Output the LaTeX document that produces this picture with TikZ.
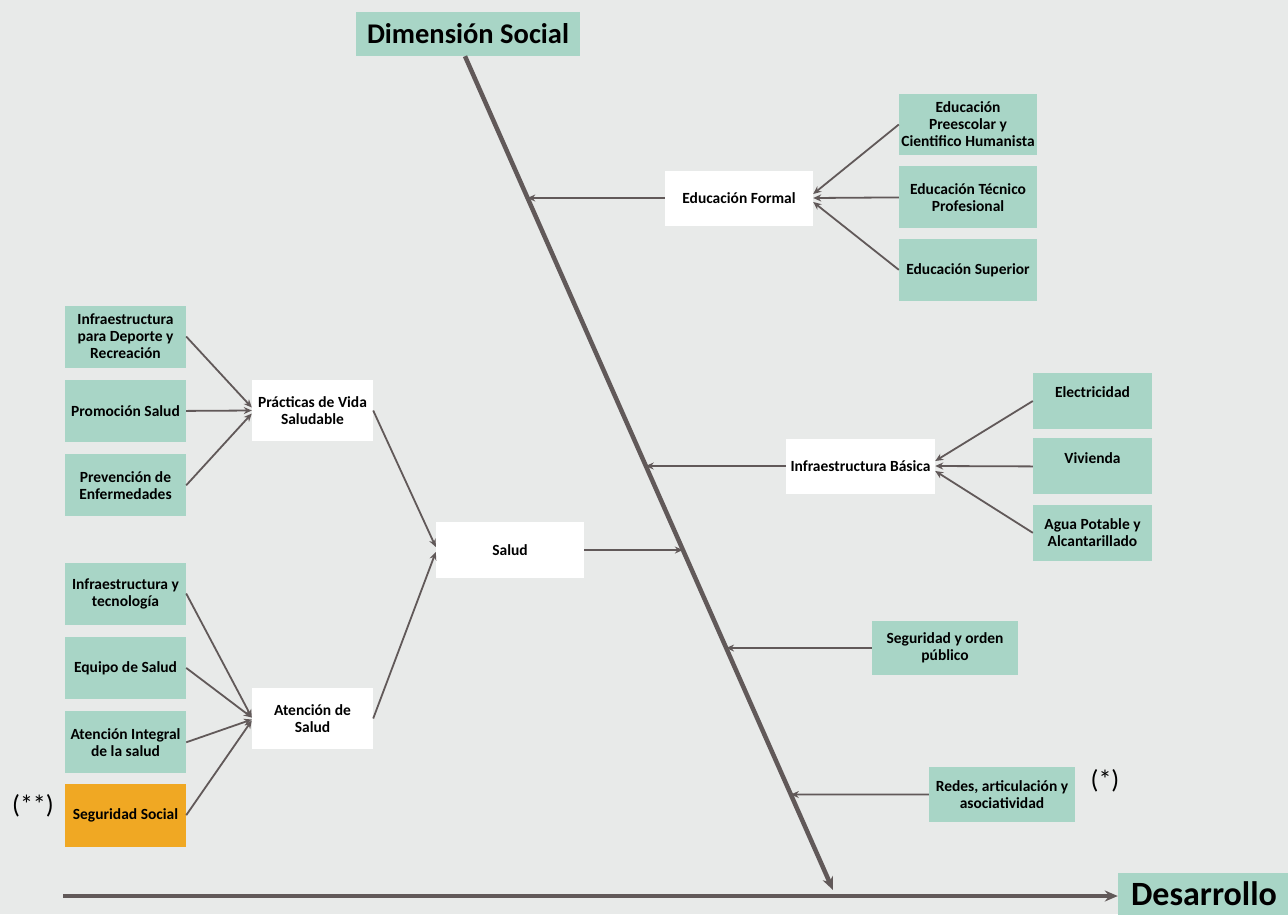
\documentclass[tikz,border=0pt]{standalone}
\usepackage{fontspec}
\setmainfont{Carlito}
\usetikzlibrary{positioning,arrows.meta}

\definecolor{fondo}{HTML}{E8EAE9}
\definecolor{verde}{HTML}{A8D5C6}
\definecolor{naranja}{HTML}{F0A823}
\definecolor{linea}{HTML}{615959}

\begin{document}
\begin{tikzpicture}[x=1pt, y=-1pt,
			caja/.style={rectangle, inner sep=2pt, align=center, font=\fontsize{15.5}{17}\selectfont\bfseries},
			blanca/.style={caja, fill=white, minimum width=148pt, minimum height=55pt},
			blanca2/.style={caja, fill=white, minimum width=121pt, minimum height=61pt},
			hoja/.style={caja, fill=verde, minimum width=121pt, minimum height=62pt},
			hojader/.style={caja, fill=verde, minimum width=138pt, minimum height=62pt},
			titulo/.style={rectangle, fill=verde, inner sep=2pt, font=\fontsize{28.5}{32}\selectfont\bfseries},
			flecha/.style={-{Stealth[length=8pt, width=7pt]}, line width=1.8pt, draw=linea},
			espina/.style={-{Stealth[length=13pt, width=11pt]}, line width=4.5pt, draw=linea}
			]
			
			% fondo y margenes
			\fill[fondo] (0,0) rectangle (1288,914);
			\useasboundingbox (0,0) rectangle (1288,914);
			
			% titulos
			\node[titulo, minimum width=224pt, minimum height=44pt] (dimension) at (468,34) {Dimensión Social};
			\node[titulo, minimum width=172pt, minimum height=42pt, font=\fontsize{34}{38}\selectfont\bfseries] (desarrollo) at (1204,894) {Desarrollo};
			
			% espinas principales
			\coordinate (dtop) at (465,57);
			\coordinate (dbot) at (833,890);
			\coordinate (hini) at (63,896);
			\draw[espina] ([xshift=-3pt]dimension.south) -- (dbot);
			\draw[espina] (hini) -- (desarrollo.west |- hini);
			
			% Educacion
			\node[blanca] (formal) at (739,198) {Educación Formal};
			\node[hojader, minimum height=61pt] (preesc) at (968,124.5) {Educación\\Preescolar y\\Cientifico Humanista};
			\node[hojader, below=11pt of preesc] (tecnico) {Educación Técnico\\Profesional};
			\node[hojader, below=10pt of tecnico] (superior) {Educación Superior};
			\draw[flecha] (preesc.west) -- ([yshift=4pt]formal.east);
			\draw[flecha] (tecnico.west) -- (formal.east);
			\draw[flecha] (superior.west) -- ([yshift=-4pt]formal.east);
			\draw[flecha] (formal.west) -- (intersection of dtop--dbot and formal.west--formal.east);
			
			% Infraestructura basica
			\node[blanca, minimum width=149pt] (basica) at (860.5,466) {Infraestructura Básica};
			\node[hoja, minimum width=119pt, minimum height=56pt] (electri) at (1092.5,401) {Electricidad\\\mbox{}};
			\node[hoja, minimum width=119pt, minimum height=56pt, below=9pt of electri] (vivienda) {Vivienda\\\mbox{}};
			\node[hoja, minimum width=119pt, minimum height=56pt, below=10pt of vivienda] (agua) {Agua Potable y\\Alcantarillado};
			\draw[flecha] (electri.west) -- ([yshift=5pt]basica.east);
			\draw[flecha] (vivienda.west) -- (basica.east);
			\draw[flecha] (agua.west) -- ([yshift=-5pt]basica.east);
			\draw[flecha] (basica.west) -- (intersection of dtop--dbot and basica.west--basica.east);
			
			% Salud
			\node[blanca, minimum height=56pt] (salud) at (510,550) {Salud};
			\draw[flecha] (salud.east) -- (intersection of dtop--dbot and salud.west--salud.east);
			
			% Practicas de vida saludable
			\node[blanca2] (practicas) at (312.5,410.5) {Prácticas de Vida\\Saludable};
			\node[hoja] (deporte) at (125.5,336.5) {Infraestructura\\para Deporte y\\Recreación};
			\node[hoja, below=12pt of deporte] (promocion) {Promoción Salud};
			\node[hoja, below=12pt of promocion] (prevencion) {Prevención de\\Enfermedades};
			\draw[flecha] (deporte.east) -- ([yshift=3pt]practicas.west);
			\draw[flecha] (promocion.east) -- (practicas.west);
			\draw[flecha] (prevencion.east) -- ([yshift=-3pt]practicas.west);
			\draw[flecha] (practicas.east) -- ([yshift=3pt]salud.west);
			
			% Atencion de salud
			\node[blanca2] (atencion) at (312.5,718.5) {Atención de\\Salud};
			\node[hoja] (tecno) at (125.5,593.5) {Infraestructura y\\tecnología};
			\node[hoja, below=12pt of tecno] (equipo) {Equipo de Salud};
			\node[hoja, below=12pt of equipo] (integral) {Atención Integral\\de la salud};
			\node[hoja, fill=naranja, minimum height=63pt, below=10pt of integral] (segsocial) {Seguridad Social};
			\draw[flecha] (tecno.east) -- ([yshift=1pt]atencion.west);
			\draw[flecha] (equipo.east) -- ([yshift=1pt]atencion.west);
			\draw[flecha] (integral.east) -- ([yshift=-1pt]atencion.west);
			\draw[flecha] (segsocial.east) -- ([yshift=-2pt]atencion.west);
			\draw[flecha] (atencion.east) -- ([yshift=-2pt]salud.west);
			
			% Seguridad y redes
			\node[caja, fill=verde, minimum width=146pt, minimum height=54pt] (orden) at (945,648) {Seguridad y orden\\público};
			\node[caja, fill=verde, minimum width=146pt, minimum height=55pt] (redes) at (1002,794.5) {Redes, articulación y\\asociatividad};
			\draw[flecha] (orden.west) -- (intersection of dtop--dbot and orden.west--orden.east);
			\draw[flecha] (redes.west) -- (intersection of dtop--dbot and redes.west--redes.east);
			
			% notas
			\node[font=\fontsize{26}{30}\selectfont] (nota2) at (33,806) {(**)};
			\node[font=\fontsize{26}{30}\selectfont] (nota1) at (1105,781) {(*)};
			
		\end{tikzpicture}
\end{document}
